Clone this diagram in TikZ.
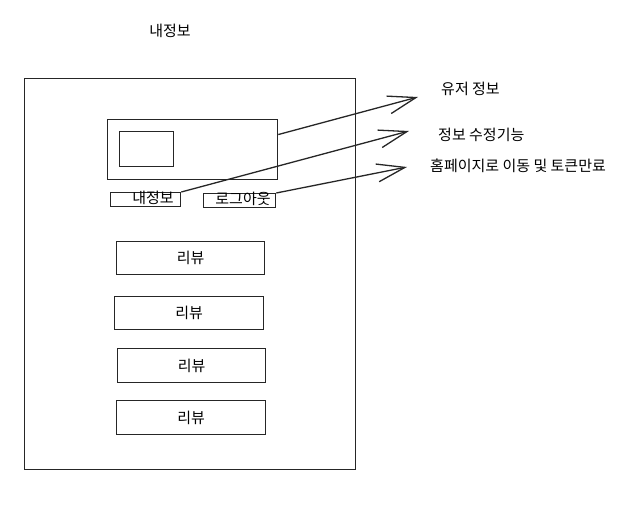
\documentclass[tikz,border=0pt]{standalone}
\usepackage{fontspec}
\setmainfont{Noto Sans CJK KR}
\usetikzlibrary{arrows.meta}
\begin{document}
\begin{tikzpicture}[x=1pt,y=-1pt,
  sk/.style={draw=black!85,line width=1.3pt},
  box/.style={sk,rectangle,inner sep=0pt,anchor=north west},
  lbl/.style={font=\fontsize{15}{17}\selectfont,inner sep=0pt},
  arr/.style={draw=black!85,line width=1.3pt,-{Straight Barb[length=28pt,width=18pt,line width=1.3pt]}}]
\useasboundingbox (0,0) rectangle (630,510);
\node[lbl] (title) at (170,31) {내정보};
\node[box,minimum width=331pt,minimum height=391pt] (frame) at (24,78) {};
\node[box,minimum width=170pt,minimum height=60pt] (prof) at (107,119) {};
\node[box,minimum width=54pt,minimum height=35pt] (pic) at (119,131) {};
\node[box,minimum width=70pt,minimum height=14pt] (btnA) at (110,192) {};
\node[lbl] (btnAt) at (153,198) {내정보};
\node[box,minimum width=72pt,minimum height=14pt] (btnB) at (203,193) {};
\node[lbl] (btnBt) at (243,199) {로그아웃};
\node[box,minimum width=148pt,minimum height=33pt] (r1) at (116,241) {};
\node[lbl] at (r1.center) {리뷰};
\node[box,minimum width=149pt,minimum height=33pt] (r2) at (114,296) {};
\node[lbl] at (r2.center) {리뷰};
\node[box,minimum width=148pt,minimum height=34pt] (r3) at (117,348) {};
\node[lbl] at (r3.center) {리뷰};
\node[box,minimum width=149pt,minimum height=34pt] (r4) at (116,400) {};
\node[lbl] at (r4.center) {리뷰};
\node[lbl,anchor=west] (l1) at (441,89) {유저 정보};
\node[lbl,anchor=west] (l2) at (438,135) {정보 수정기능};
\node[lbl,anchor=west] (l3) at (430,166) {홈페이지로 이동 및 토큰만료};
\coordinate (t1) at (418,97);
\coordinate (t2) at (409,131);
\coordinate (t3) at (407,167);
\draw[arr] (prof.10) -- (t1);
\draw[arr] (btnA.north east) -- (t2);
\draw[arr] (btnB.north east) -- (t3);
\end{tikzpicture}
\end{document}
